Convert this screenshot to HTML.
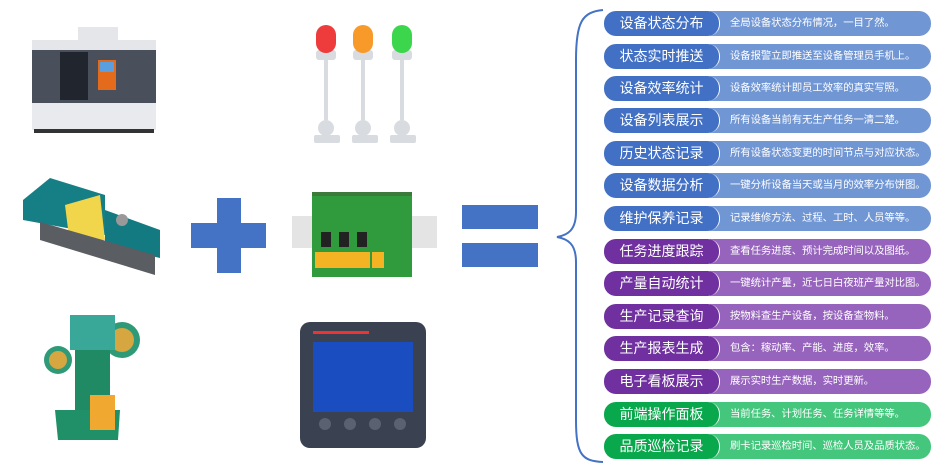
<!DOCTYPE html>
<html><head><meta charset="utf-8"><style>
body{margin:0;width:950px;height:473px;background:#fff;overflow:hidden;position:relative;font-family:"Liberation Sans","Noto Sans CJK SC",sans-serif}
.r{position:absolute;left:604px;width:327px;height:25px}
.d{position:absolute;left:106px;right:0;top:0;bottom:0;border-radius:0 12px 12px 0;color:#fff;font-size:10.4px;line-height:25px;padding-left:20px;box-sizing:border-box;white-space:nowrap;letter-spacing:-0.1px}
.l{position:absolute;left:0;top:0;width:116px;height:25px;border-radius:12px;color:#fff;font-size:14px;line-height:25px;text-align:center;border-right:1px solid #fff;box-sizing:border-box}
.b .l{background:#4170c4}.b .d{background:#7196d4}
.p .l{background:#7030a0}.p .d{background:#9663bd}
.g .l{background:#0aa84c}.g .d{background:#45c67d}
</style></head><body>
<svg width="950" height="473" style="position:absolute;left:0;top:0">
<!-- CNC -->
<rect x="32" y="45" width="124" height="80" fill="#4a4f5c"/>
<rect x="32" y="40" width="124" height="10" fill="#e4e6ea"/>
<rect x="78" y="27" width="40" height="15" fill="#e4e6ea"/>
<rect x="32" y="103" width="124" height="27" fill="#e8eaee"/>
<rect x="60" y="52" width="28" height="48" fill="#20252e"/>
<rect x="98" y="60" width="18" height="30" fill="#e46b1c"/>
<rect x="100" y="62" width="14" height="10" fill="#5aa0e0"/>
<rect x="34" y="129" width="120" height="4" fill="#333"/>
<!-- Injection molder -->
<polygon points="23,200 50,178 105,195 105,235 23,220" fill="#167f86"/>
<polygon points="65,205 100,195 105,240 70,245" fill="#f1d54b"/>
<polygon points="105,210 160,230 160,258 105,245" fill="#137a82"/>
<polygon points="40,222 155,255 155,275 40,240" fill="#5a5d62"/>
<circle cx="122" cy="220" r="6" fill="#999"/>
<!-- Press -->
<circle cx="122" cy="340" r="18" fill="#2e9a78"/><circle cx="122" cy="340" r="12" fill="#d6a640"/>
<circle cx="58" cy="360" r="14" fill="#2e9a78"/><circle cx="58" cy="360" r="9" fill="#d6a640"/>
<rect x="70" y="315" width="45" height="35" fill="#3aa898"/>
<rect x="75" y="350" width="35" height="60" fill="#1f8a64"/>
<polygon points="55,410 120,410 118,440 58,440" fill="#1f9068"/>
<rect x="90" y="395" width="25" height="35" fill="#f0a830"/>
<!-- Lights -->
<g fill="#d8dbdf">
<rect x="324" y="55" width="4" height="65"/><rect x="361" y="55" width="4" height="65"/><rect x="400" y="55" width="4" height="65"/>
<rect x="314" y="135" width="26" height="8" rx="2"/><rect x="352" y="135" width="26" height="8" rx="2"/><rect x="390" y="135" width="26" height="8" rx="2"/>
<circle cx="326" cy="128" r="8"/><circle cx="363" cy="128" r="8"/><circle cx="402" cy="128" r="8"/>
<rect x="316" y="50" width="20" height="10" rx="3"/><rect x="353" y="50" width="20" height="10" rx="3"/><rect x="392" y="50" width="20" height="10" rx="3"/>
</g>
<rect x="316" y="25" width="20" height="28" rx="10" fill="#ee3b3b"/>
<rect x="353" y="25" width="20" height="28" rx="10" fill="#f79a2a"/>
<rect x="392" y="25" width="20" height="28" rx="10" fill="#3bd64c"/>
<!-- plus -->
<rect x="191" y="223" width="75" height="25" fill="#4472c4"/>
<rect x="217" y="198" width="24" height="75" fill="#4472c4"/>
<!-- board -->
<rect x="292" y="216" width="145" height="32" fill="#e4e4e4"/>
<rect x="312" y="192" width="100" height="85" fill="#2f9b3c"/>
<rect x="312" y="192" width="100" height="4" fill="#3b7a3a"/>
<rect x="315" y="252" width="55" height="16" fill="#f4b322"/><rect x="372" y="252" width="12" height="16" fill="#f4b322"/>
<rect x="321" y="232" width="10" height="15" fill="#222"/><rect x="339" y="232" width="10" height="15" fill="#222"/><rect x="357" y="232" width="10" height="15" fill="#222"/>
<!-- equals -->
<rect x="462" y="205" width="76" height="24" fill="#4472c4"/>
<rect x="462" y="243" width="76" height="24" fill="#4472c4"/>
<!-- HMI -->
<rect x="300" y="322" width="126" height="126" rx="10" fill="#3a4150"/>
<rect x="313" y="342" width="100" height="70" fill="#1a4ec0"/>
<rect x="313" y="331" width="56" height="3" fill="#e33"/>
<circle cx="325" cy="424" r="6" fill="#5a6272"/><circle cx="350" cy="424" r="6" fill="#5a6272"/><circle cx="375" cy="424" r="6" fill="#5a6272"/><circle cx="400" cy="424" r="6" fill="#5a6272"/>
<!-- brace -->
<path d="M603,10 C582,12 576,22 576,60 L576,212 C576,230 568,235 557,237 C568,239 576,244 576,262 L576,420 C576,455 582,461 603,462" fill="none" stroke="#4472c4" stroke-width="2"/>
</svg>
<div class="r b" style="top:11px"><div class="d">全局设备状态分布情况，一目了然。</div><div class="l">设备状态分布</div></div>
<div class="r b" style="top:44px"><div class="d">设备报警立即推送至设备管理员手机上。</div><div class="l">状态实时推送</div></div>
<div class="r b" style="top:76px"><div class="d">设备效率统计即员工效率的真实写照。</div><div class="l">设备效率统计</div></div>
<div class="r b" style="top:108px"><div class="d">所有设备当前有无生产任务一清二楚。</div><div class="l">设备列表展示</div></div>
<div class="r b" style="top:141px"><div class="d">所有设备状态变更的时间节点与对应状态。</div><div class="l">历史状态记录</div></div>
<div class="r b" style="top:173px"><div class="d">一键分析设备当天或当月的效率分布饼图。</div><div class="l">设备数据分析</div></div>
<div class="r b" style="top:206px"><div class="d">记录维修方法、过程、工时、人员等等。</div><div class="l">维护保养记录</div></div>
<div class="r p" style="top:239px"><div class="d">查看任务进度、预计完成时间以及图纸。</div><div class="l">任务进度跟踪</div></div>
<div class="r p" style="top:271px"><div class="d">一键统计产量，近七日白夜班产量对比图。</div><div class="l">产量自动统计</div></div>
<div class="r p" style="top:304px"><div class="d">按物料查生产设备，按设备查物料。</div><div class="l">生产记录查询</div></div>
<div class="r p" style="top:336px"><div class="d">包含：稼动率、产能、进度，效率。</div><div class="l">生产报表生成</div></div>
<div class="r p" style="top:369px"><div class="d">展示实时生产数据，实时更新。</div><div class="l">电子看板展示</div></div>
<div class="r g" style="top:402px"><div class="d">当前任务、计划任务、任务详情等等。</div><div class="l">前端操作面板</div></div>
<div class="r g" style="top:434px"><div class="d">刷卡记录巡检时间、巡检人员及品质状态。</div><div class="l">品质巡检记录</div></div>
</body></html>
